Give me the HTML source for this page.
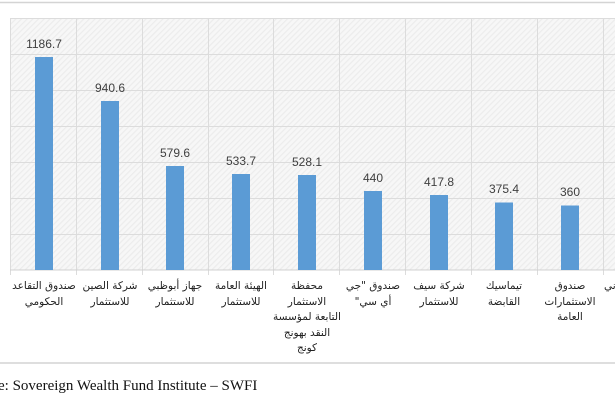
<!DOCTYPE html>
<html><head><meta charset="utf-8"><style>
html,body{margin:0;padding:0;background:#fff;width:615px;height:410px;overflow:hidden}
</style></head><body>
<svg width="615" height="410" xmlns="http://www.w3.org/2000/svg">
<defs>
<pattern id="h" width="4" height="4" patternUnits="userSpaceOnUse" patternTransform="rotate(45)">
<rect width="4" height="4" fill="#f7f7f7"/><rect width="1.2" height="4" fill="#ececec"/>
</pattern>
</defs>
<line x1="0" y1="2.5" x2="615" y2="2.5" stroke="#d4d4d4" stroke-width="1.5"/>
<line x1="0" y1="363" x2="615" y2="363" stroke="#d4d4d4" stroke-width="1.5"/>
<rect x="10" y="18" width="605" height="252" fill="url(#h)"/>
<g stroke="#dcdcdc" stroke-width="1">
<line x1="10" y1="18.5" x2="615" y2="18.5"/><line x1="10" y1="54.5" x2="615" y2="54.5"/>
<line x1="10" y1="90.5" x2="615" y2="90.5"/><line x1="10" y1="126.5" x2="615" y2="126.5"/>
<line x1="10" y1="162.5" x2="615" y2="162.5"/><line x1="10" y1="198.5" x2="615" y2="198.5"/>
<line x1="10" y1="234.5" x2="615" y2="234.5"/>
<line x1="10.5" y1="18" x2="10.5" y2="275"/><line x1="76.5" y1="18" x2="76.5" y2="275"/>
<line x1="142.5" y1="18" x2="142.5" y2="275"/><line x1="208.5" y1="18" x2="208.5" y2="275"/>
<line x1="273.5" y1="18" x2="273.5" y2="275"/><line x1="339.5" y1="18" x2="339.5" y2="275"/>
<line x1="405.5" y1="18" x2="405.5" y2="275"/><line x1="471.5" y1="18" x2="471.5" y2="275"/>
<line x1="537.5" y1="18" x2="537.5" y2="275"/><line x1="603.5" y1="18" x2="603.5" y2="275"/>
</g>
<line x1="10" y1="270" x2="615" y2="270" stroke="#d0d0d0"/>
<g fill="#5b9bd5">
<rect x="35" y="57" width="18" height="213"/>
<rect x="101" y="101" width="18" height="169"/>
<rect x="166" y="166" width="18" height="104"/>
<rect x="232" y="174" width="18" height="96"/>
<rect x="298" y="175" width="18" height="95"/>
<rect x="364" y="191" width="18" height="79"/>
<rect x="430" y="195" width="18" height="75"/>
<rect x="495" y="202.5" width="18" height="67.5"/>
<rect x="561" y="205.5" width="18" height="64.5"/>
</g>
<g font-family="Liberation Sans, sans-serif" font-size="12" fill="#404040" text-anchor="middle">
<text x="44" y="48">1186.7</text><text x="110" y="92">940.6</text>
<text x="175" y="157">579.6</text><text x="241" y="165">533.7</text>
<text x="307" y="166">528.1</text><text x="373" y="182">440</text>
<text x="439" y="186">417.8</text><text x="504" y="193">375.4</text>
<text x="570" y="196">360</text>
</g>
<g font-family="DejaVu Sans, sans-serif" font-size="10.5" fill="#222" text-anchor="middle" direction="rtl">
<text x="44" y="289">صندوق التقاعد</text><text x="44" y="305">الحكومي</text>
<text x="110" y="289">شركة الصين</text><text x="110" y="305">للاستثمار</text>
<text x="175" y="289">جهاز أبوظبي</text><text x="175" y="305">للاستثمار</text>
<text x="241" y="289">الهيئة العامة</text><text x="241" y="305">للاستثمار</text>
<text x="307" y="289">محفظة</text><text x="307" y="305">الاستثمار</text><text x="307" y="320">التابعة لمؤسسة</text><text x="307" y="336">النقد بهونج</text><text x="307" y="351">كونج</text>
<text x="373" y="289">صندوق "جي</text><text x="373" y="305">أي سي"</text>
<text x="439" y="289">شركة سيف</text><text x="439" y="305">للاستثمار</text>
<text x="504" y="289">تيماسيك</text><text x="504" y="305">القابضة</text>
<text x="570" y="289">صندوق</text><text x="570" y="305">الاستثمارات</text><text x="570" y="320">العامة</text>
</g>
<text x="604" y="289" font-family="DejaVu Sans, sans-serif" font-size="10.5" fill="#222">ني</text>
<text x="-2" y="390" font-family="Liberation Serif, serif" font-size="15" fill="#111">e: Sovereign Wealth Fund Institute – SWFI</text>
</svg>
</body></html>
